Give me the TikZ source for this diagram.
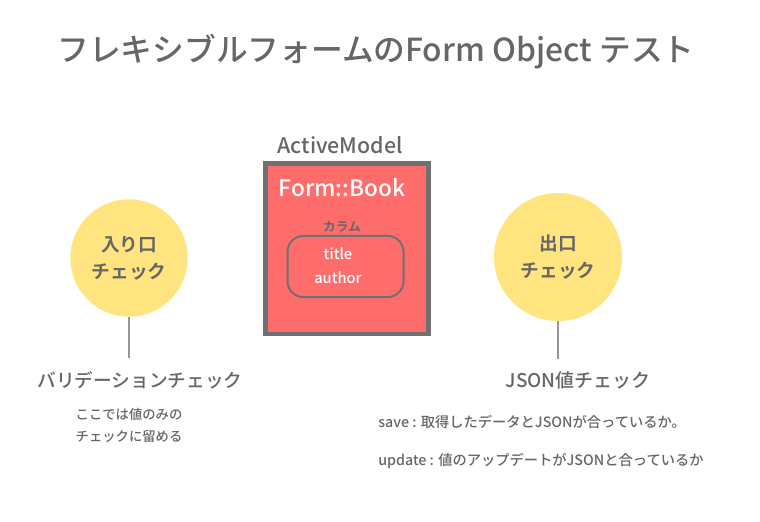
\documentclass[tikz,border=0pt]{standalone}
\usepackage{fontspec}
\usetikzlibrary{positioning}
\setmainfont{Noto Sans CJK JP}[BoldFont={Noto Sans CJK JP Bold}]
\newfontfamily\medium{Noto Sans CJK JP Medium}
\definecolor{Ink}{RGB}{102,102,102}
\definecolor{Salmon}{RGB}{255,108,108}
\definecolor{Frame}{RGB}{112,112,112}
\definecolor{Butter}{RGB}{255,228,128}
\definecolor{Stem}{RGB}{150,150,150}

\begin{document}
\begin{tikzpicture}[x=0.75pt,y=-0.75pt,
    txt/.style={text=Ink,inner sep=0pt},
    check/.style={circle,fill=Butter,minimum size=#1,inner sep=0pt,text=Ink,font=\bfseries\fontsize{14}{20}\selectfont,align=center},
    stem/.style={draw=Stem,line width=1.2pt}]
    \useasboundingbox (0,0) rectangle (760,521);
    \node[txt,font=\medium\fontsize{23.8}{28}\selectfont] (title) at (376,52) {フレキシブルフォームのForm Object テスト};
    % the model box
    \node[txt,font=\medium\fontsize{16}{20}\selectfont] (am) at (340,145) {ActiveModel};
    \node[draw=Frame,line width=3.5pt,fill=Salmon,minimum width=122pt,minimum height=128pt,inner sep=0pt] (book) at (347,248.5) {};
    \node[text=white,inner sep=0pt,font=\medium\fontsize{17}{20}\selectfont] (name) at (342,188) {Form::Book};
    \node[txt,font=\bfseries\fontsize{9.5}{12}\selectfont] (col) at (342,227) {カラム};
    \node[draw=Frame,line width=1.5pt,rounded corners=12pt,minimum width=87pt,minimum height=46pt] (cols) at (345.5,266.5) {};
    \node[text=white,inner sep=0pt,font=\medium\fontsize{11}{14}\selectfont] (t1) at (338,254) {title};
    \node[text=white,inner sep=0pt,font=\medium\fontsize{11}{14}\selectfont] (t2) at (338,278) {author};
    % entry check
    \node[check=88pt] (incheck) at (129,258) {入り口\\チェック};
    \node[txt,font=\medium\fontsize{14}{18}\selectfont] (inlbl) at (140,380) {バリデーションチェック};
    \node[txt,font=\medium\fontsize{10}{16.5}\selectfont,align=center] (innote) at (129,425) {ここでは値のみの\\チェックに留める};
    \draw[stem] (incheck.south) -- ++(0,41);
    % exit check
    \node[check=96pt] (outcheck) at (558,257) {出口\\チェック};
    \node[txt,font=\medium\fontsize{14.2}{18}\selectfont] (outlbl) at (578,380) {JSON値チェック};
    \node[txt,font=\medium\fontsize{10.7}{14}\selectfont,anchor=west] (save) at (378,422) {save : 取得したデータとJSONが合っているか。};
    \node[txt,font=\medium\fontsize{10.7}{14}\selectfont,anchor=west] (upd) at (378,461) {update : 値のアップデートがJSONと合っているか};
    \draw[stem] (outcheck.south) -- ++(0,38);
  \end{tikzpicture}
\end{document}
